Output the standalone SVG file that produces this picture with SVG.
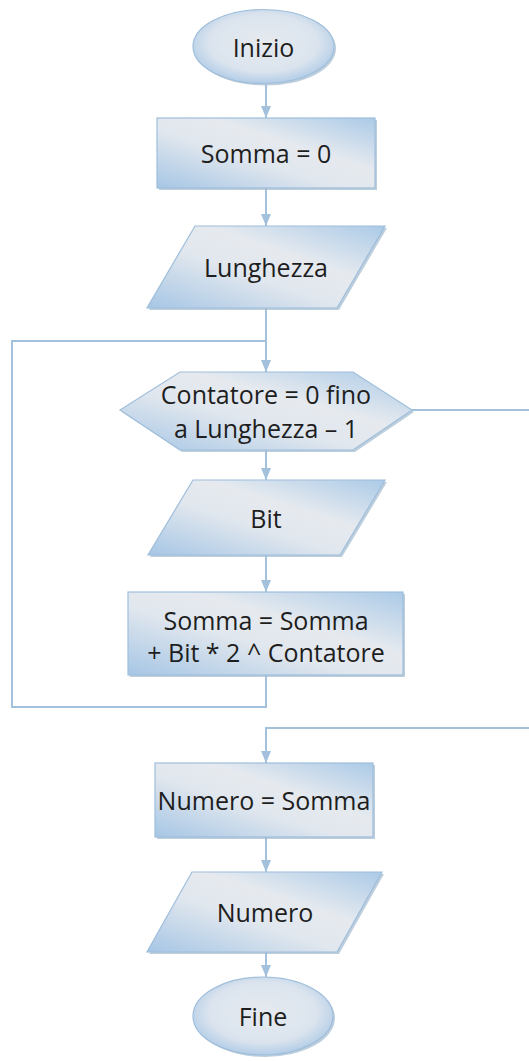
<svg xmlns="http://www.w3.org/2000/svg" width="529" height="1061" viewBox="0 0 529 1061">
  <style>
    .shape { fill: url(#fillBox); stroke: #9fbedb; stroke-width: 1.2; }
    .oval { fill: url(#fillOval); stroke: #9fbedb; stroke-width: 1.2; }
    .shadow { fill: #a7bdd2; opacity: 0.75; }
    .label { font-family: "Open Sans", "Noto Sans", "DejaVu Sans", sans-serif; font-size: 25px; fill: #1e1e1e; text-anchor: middle; dominant-baseline: central; }
    .wire { fill: none; stroke: #a3c1dd; stroke-width: 2; }
  </style>
  <defs>
    <linearGradient id="fillBox" x1="0" y1="1" x2="1" y2="0">
      <stop offset="0" stop-color="#a6c6e5"/>
      <stop offset="0.42" stop-color="#e1e7ee"/>
      <stop offset="0.62" stop-color="#e6eaef"/>
      <stop offset="1" stop-color="#abcae7"/>
    </linearGradient>
    <radialGradient id="fillOval" cx="0.5" cy="0.45" r="0.55">
      <stop offset="0" stop-color="#e6eaef"/>
      <stop offset="0.7" stop-color="#dbe4ee"/>
      <stop offset="1" stop-color="#b3cde7"/>
    </radialGradient>
    <marker id="arrow" viewBox="0 0 12 10" refX="12" refY="5" markerWidth="12" markerHeight="10" markerUnits="userSpaceOnUse" orient="auto">
      <path d="M0,0 L12,5 L0,10 z" fill="#a3c1dd"/>
    </marker>
  </defs>

  <rect width="529" height="1061" fill="#ffffff"/>

  <!-- connectors -->
  <g id="connectors">
    <line class="wire" x1="266" y1="84" x2="266" y2="118" marker-end="url(#arrow)"/>
    <line class="wire" x1="266" y1="188" x2="266" y2="226" marker-end="url(#arrow)"/>
    <line class="wire" x1="266" y1="308" x2="266" y2="372" marker-end="url(#arrow)"/>
    <line class="wire" x1="266" y1="450" x2="266" y2="480" marker-end="url(#arrow)"/>
    <line class="wire" x1="266" y1="555" x2="266" y2="592" marker-end="url(#arrow)"/>
    <!-- loop back to the counter test -->
    <polyline class="wire" points="266,675 266,707 12,707 12,341 266,341"/>
    <!-- exit of the loop -->
    <line class="wire" x1="412" y1="410" x2="529" y2="410"/>
    <polyline class="wire" points="529,728 266,728 266,763" marker-end="url(#arrow)"/>
    <line class="wire" x1="266" y1="837" x2="266" y2="872" marker-end="url(#arrow)"/>
    <line class="wire" x1="266" y1="952" x2="266" y2="977" marker-end="url(#arrow)"/>
  </g>

  <g id="inizio">
    <ellipse class="shadow" cx="265.5" cy="48.5" rx="70.5" ry="37"/>
    <ellipse class="oval" cx="263.5" cy="46.5" rx="70.5" ry="37"/>
    <text class="label" x="263.5" y="46.5">Inizio</text>
  </g>

  <g id="somma-zero">
    <rect class="shadow" x="159" y="120" width="218" height="70"/>
    <rect class="shape" x="157" y="118" width="218" height="70"/>
    <text class="label" x="266" y="153">Somma = 0</text>
  </g>

  <g id="lunghezza">
    <polygon class="shadow" points="197,228 387,228 339,310 149,310"/>
    <polygon class="shape" points="195,226 385,226 337,308 147,308"/>
    <text class="label" x="266" y="267">Lunghezza</text>
  </g>

  <g id="ciclo">
    <polygon class="shadow" points="182,374 355,374 414,412 355,452 182,452 122,412"/>
    <polygon class="shape" points="180,372 353,372 412,410 353,450 180,450 120,410"/>
    <text class="label" x="266" y="394">Contatore = 0 fino</text>
    <text class="label" x="266" y="428">a Lunghezza – 1</text>
  </g>

  <g id="bit">
    <polygon class="shadow" points="195,482 387,482 342,557 150,557"/>
    <polygon class="shape" points="193,480 385,480 340,555 148,555"/>
    <text class="label" x="266" y="518">Bit</text>
  </g>

  <g id="somma-aggiorna">
    <rect class="shadow" x="130" y="594" width="275" height="83"/>
    <rect class="shape" x="128" y="592" width="275" height="83"/>
    <text class="label" x="266" y="620">Somma = Somma</text>
    <text class="label" x="266" y="652">+ Bit * 2 ^ Contatore</text>
  </g>

  <g id="numero-somma">
    <rect class="shadow" x="157" y="765" width="218" height="74"/>
    <rect class="shape" x="155" y="763" width="218" height="74"/>
    <text class="label" x="264" y="800">Numero = Somma</text>
  </g>

  <g id="numero">
    <polygon class="shadow" points="194,874 384,874 339,954 149,954"/>
    <polygon class="shape" points="192,872 382,872 337,952 147,952"/>
    <text class="label" x="265" y="912">Numero</text>
  </g>

  <g id="fine">
    <ellipse class="shadow" cx="265" cy="1018" rx="70" ry="39"/>
    <ellipse class="oval" cx="263" cy="1016" rx="70" ry="39"/>
    <text class="label" x="263" y="1016">Fine</text>
  </g>
</svg>
